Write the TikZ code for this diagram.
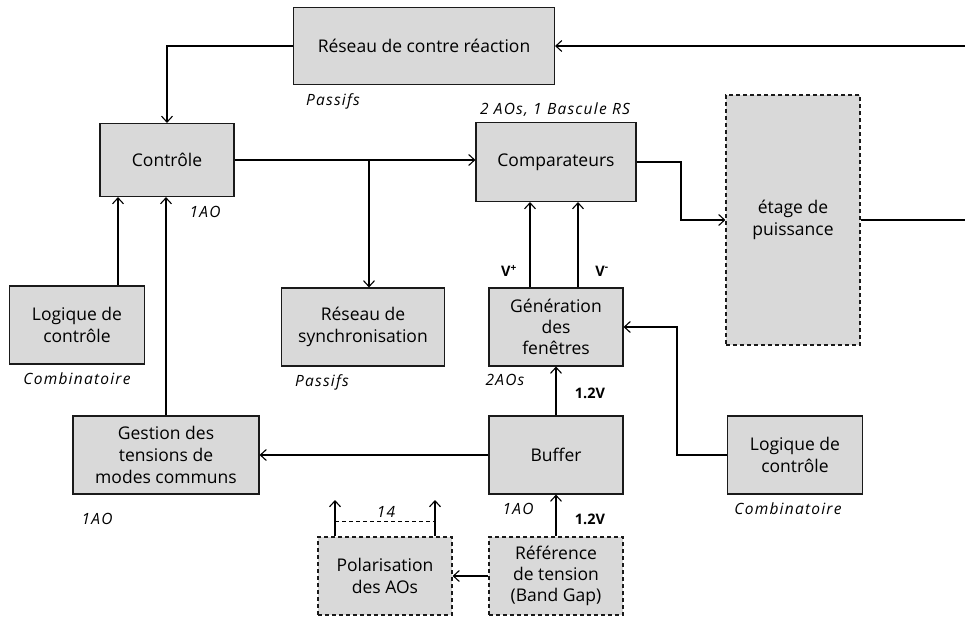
\documentclass[tikz,border=0pt]{standalone}
\usepackage{fontspec}
\setmainfont{Open Sans}
\newfontfamily\notefont[LetterSpace=8]{Open Sans}
\usepackage{tikz}
\usetikzlibrary{arrows.meta,positioning}
\definecolor{blocgray}{HTML}{D9D9D9}
\definecolor{blocline}{HTML}{1A1A1A}

\tikzset{
  bloc/.style={draw=blocline, fill=blocgray, line width=1.1bp, align=center,
    minimum width=134bp, minimum height=78bp, inner sep=2bp,
    font=\fontsize{17.5bp}{22bp}\selectfont},
  blocpointille/.style={bloc, dashed, dash pattern=on 4bp off 3bp},
  note/.style={font=\notefont\fontsize{15.5bp}{17bp}\selectfont\itshape, inner sep=0pt},
  valtension/.style={font=\fontsize{14.5bp}{16bp}\selectfont\bfseries, inner sep=0pt},
  lien/.style={line width=1.1bp, -{Straight Barb[length=6bp,width=11bp]}},
}

\begin{document}
\begin{tikzpicture}[x=1bp, y=-1bp]
  \useasboundingbox (0,0) rectangle (965,622);

  % blocs
  \node[bloc, minimum width=261bp, minimum height=77bp] (reseau) at (424,46) {Réseau de contre réaction};
  \node[bloc, minimum height=73bp] (controle) at (167,160) {Contrôle};
  \node[bloc, minimum width=160bp, minimum height=79bp] (comp) at (556,162) {Comparateurs};
  \node[blocpointille, minimum height=250bp] (etage) at (793,220) {étage de\\puissance};
  \node[bloc, minimum width=135bp] (logiqueA) at (77,325) {Logique de\\contrôle};
  \node[bloc, minimum width=163bp] (synchro) at (363,327) {Réseau de\\synchronisation};
  \node[bloc, font=\fontsize{17.5bp}{21bp}\selectfont] (gen) at (556,327) {Génération\\des\\fenêtres};
  \node[bloc, minimum width=186bp] (gestion) at (166,455) {Gestion des\\tensions de\\modes communs};
  \node[bloc] (buffer) at (556,455) {Buffer};
  \node[bloc, minimum width=135bp] (logiqueB) at (795,455) {Logique de\\contrôle};
  \node[blocpointille] (polar) at (385,576) {Polarisation\\des AOs};
  \node[blocpointille, font=\fontsize{17.5bp}{21bp}\selectfont] (ref) at (556,576) {Référence\\de tension\\(Band Gap)};

  % annotations
  \node[note] at (333,101) {Passifs};
  \node[note] at (555,110) {2 AOs, 1 Bascule RS};
  \node[note] at (205,212) {1AO};
  \node[note] at (77,379) {Combinatoire};
  \node[note] at (322,382) {Passifs};
  \node[note] at (505,380) {2AOs};
  \node[note] at (97,519) {1AO};
  \node[note] at (518,509) {1AO};
  \node[note] at (788,509) {Combinatoire};
  \node[note] at (386,512) {14};
  \node[valtension] at (509,271) {V\textsuperscript{+}};
  \node[valtension] at (602,271) {V\textsuperscript{-}};
  \node[valtension] at (590,393) {1.2V};
  \node[valtension] at (590,519) {1.2V};

  % liaisons
  \coordinate (entree) at (965,46);
  \coordinate (sortie) at (965,220);
  \coordinate (branche) at (369,160);
  \draw[lien] (entree) -- (reseau.east);
  \draw[lien] (reseau.west) -| (controle.north);
  \draw[lien] (controle.east) -- (controle.east -| comp.west);
  \draw[lien] (branche) -- (synchro.north -| branche);
  \draw[lien] (comp.east) -- (681,162) |- (etage.west);
  \draw[line width=1.1bp] (etage.east) -- (sortie);
  \draw[lien] (logiqueA.north -| 118,0) -- (controle.south -| 118,0);
  \draw[lien] (gestion.north) -- (gestion.north |- controle.south);
  \draw[lien] (gen.north -| 530,0) -- (comp.south -| 530,0);
  \draw[lien] (gen.north -| 578,0) -- (comp.south -| 578,0);
  \draw[lien] (buffer.north) -- (gen.south);
  \draw[lien] (logiqueB.west) -- (677,455) |- (gen.east);
  \draw[lien] (buffer.west) -- (gestion.east);
  \draw[lien] (ref.north) -- (buffer.south);
  \draw[lien] (ref.west) -- (polar.east);
  \draw[lien] (polar.north -| 335,0) -- (335,500);
  \draw[lien] (polar.north -| 435,0) -- (435,500);
  \draw[line width=1bp, dashed, dash pattern=on 4bp off 3bp] (335,521) -- (435,521);
\end{tikzpicture}
\end{document}
